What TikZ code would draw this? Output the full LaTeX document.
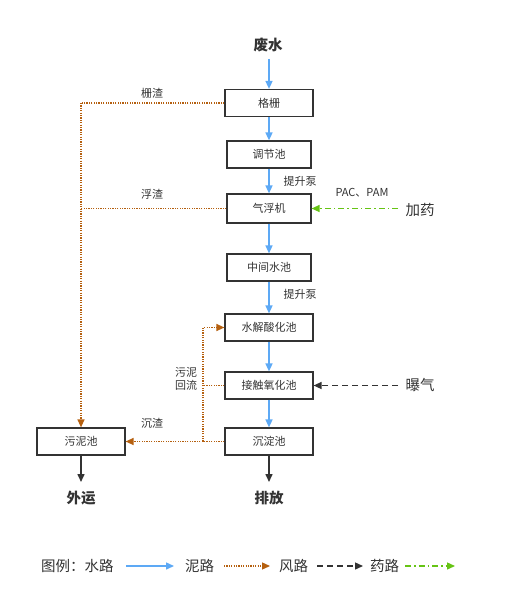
\documentclass[tikz,border=0pt]{standalone}
\usepackage{fontspec}
\setmainfont{Noto Sans CJK SC}
\usetikzlibrary{arrows.meta}
\definecolor{wblue}{HTML}{5DA9F5}
\definecolor{mbrown}{HTML}{B5600F}
\definecolor{dgreen}{HTML}{66C414}
\definecolor{tgray}{HTML}{333333}
\tikzset{
  box/.style={draw=tgray, line width=1.2pt, minimum height=27pt, inner sep=0pt, font=\fontsize{11}{13}\selectfont, text=tgray},
  lbl/.style={font=\fontsize{11}{13}\selectfont, text=tgray, inner sep=0pt},
  big/.style={font=\fontsize{14.5}{17}\selectfont, text=tgray, inner sep=0pt},
  bigb/.style={font=\fontsize{14.5}{17}\selectfont\bfseries, text=tgray, inner sep=0pt},
  water/.style={draw=wblue, line width=1.5pt, -{Triangle[length=8pt,width=7pt]}},
  mud/.style={draw=mbrown, line width=1.3pt, dash pattern=on 1.2pt off 1.2pt},
  mudarrow/.style={mud, -{Triangle[length=8pt,width=7pt,fill=mbrown]}},
  air/.style={draw=tgray, line width=1.4pt, dash pattern=on 6pt off 4pt, -{Triangle[length=8pt,width=7pt,fill=tgray]}},
  drug/.style={draw=dgreen, line width=1.4pt, dash pattern=on 6pt off 3pt on 1.5pt off 3pt, -{Triangle[length=8pt,width=7pt,fill=dgreen]}},
  outarrow/.style={draw=tgray, line width=1.5pt, -{Triangle[length=8pt,width=7pt]}},
}
\begin{document}
\begin{tikzpicture}[x=1pt,y=-1pt]
\useasboundingbox (0,0) rectangle (507,602);
% nodes
\node[bigb] (src) at (268,45) {废水};
\node[box, minimum width=88pt] (grid) at (269,103) {格栅};
\node[box, minimum width=84pt] (adj) at (269,154.5) {调节池};
\node[box, minimum width=84pt, minimum height=29pt] (flot) at (269,208.5) {气浮机};
\node[box, minimum width=84pt] (mid) at (269,267.5) {中间水池};
\node[box, minimum width=88pt] (hyd) at (269,327.5) {水解酸化池};
\node[box, minimum width=88pt] (con) at (269,385.5) {接触氧化池};
\node[box, minimum width=88pt] (sed) at (269,441.5) {沉淀池};
\node[box, minimum width=88pt] (slu) at (81,441.5) {污泥池};
\node[bigb] (out1) at (81,498) {外运};
\node[bigb] (out2) at (269,498) {排放};
% labels
\node[lbl] (l1) at (152,93) {栅渣};
\node[lbl] (l2) at (152,194) {浮渣};
\node[lbl] (l3) at (152,423) {沉渣};
\node[lbl, align=center] (l4) at (186,378.5) {污泥\\回流};
\node[lbl] (p1) at (300,181) {提升泵};
\node[lbl] (p2) at (300,294) {提升泵};
\node[lbl] (pac) at (362,193) {PAC、PAM};
\node[big] (dose) at (420,210) {加药};
\node[big] (aer) at (420,385) {曝气};
% water path
\coordinate (s0) at (269,59);
\draw[water] (s0) -- (grid.north);
\draw[water] (grid.south) -- (adj.north);
\draw[water] (adj.south) -- (flot.north);
\draw[water] (flot.south) -- (mid.north);
\draw[water] (mid.south) -- (hyd.north);
\draw[water] (hyd.south) -- (con.north);
\draw[water] (con.south) -- (sed.north);
% outputs
\coordinate (o1) at (81,482);
\coordinate (o2) at (269,482);
\draw[outarrow] (slu.south) -- (o1);
\draw[outarrow] (sed.south) -- (o2);
% mud
\coordinate (lt) at (81,103);
\draw[mud] (grid.west) -- (lt);
\draw[mudarrow] (lt) -- (slu.north);
\draw[mud] (flot.west) -- (flot.west -| lt);
\draw[mudarrow] (sed.west) -- (slu.east);
\coordinate (rb) at (203,441.5);
\draw[mudarrow] (rb) |- (hyd.west);
\draw[mud] (con.west) -- (con.west -| rb);
% air & drug
\coordinate (a0) at (398,385.5);
\draw[air] (a0) -- (con.east);
\coordinate (d0) at (398,208.5);
\draw[drug] (d0) -- (flot.east);
% legend
\node[big, anchor=west] (lg1) at (41,566) {图例：水路};
\coordinate (w1) at (126,566); \coordinate (w2) at (174,566);
\draw[water] (w1) -- (w2);
\node[big, anchor=west] (lg2) at (185,566) {泥路};
\coordinate (m1) at (224,566); \coordinate (m2) at (270,566);
\draw[mudarrow] (m1) -- (m2);
\node[big, anchor=west] (lg3) at (279,566) {风路};
\coordinate (k1) at (317,566); \coordinate (k2) at (363,566);
\draw[air] (k1) -- (k2);
\node[big, anchor=west] (lg4) at (370,566) {药路};
\coordinate (g1) at (405,566); \coordinate (g2) at (455,566);
\draw[drug] (g1) -- (g2);
\end{tikzpicture}
\end{document}
